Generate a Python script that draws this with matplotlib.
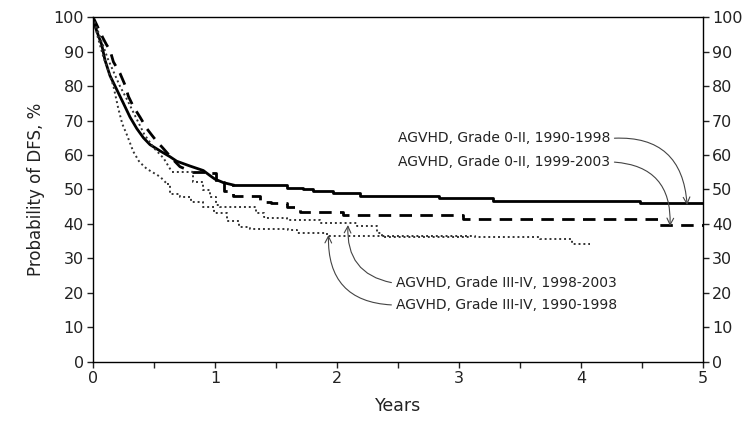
import matplotlib
matplotlib.use('Agg')
import matplotlib.pyplot as plt
from matplotlib.ticker import MultipleLocator

# Kaplan-Meier style curves (years, DFS %)
t_early_1990 = [0, 0.02, 0.05, 0.071, 0.098, 0.139, 0.194, 0.249, 0.303, 0.358, 0.413,
                0.467, 0.549, 0.631, 0.686, 0.795, 0.904, 0.96, 1.0, 1.068, 1.15,
                1.59, 1.72, 1.80, 1.97, 2.19, 2.84, 3.28, 4.48, 5.0]
s_early_1990 = [100, 97, 94, 92, 87.5, 83, 79, 75, 71, 67.7, 65,
                63, 61.2, 59.5, 58.2, 56.8, 55.5, 54, 53, 52, 51.3,
                50.4, 50, 49.6, 49, 48.1, 47.4, 46.7, 46, 46]

t_early_1999 = [0, 0.04, 0.08, 0.11, 0.139, 0.167, 0.221, 0.262, 0.29, 0.331, 0.385,
                0.44, 0.481, 0.535, 0.563, 0.658, 0.713, 0.809, 0.918, 1.01, 1.07,
                1.15, 1.37, 1.46, 1.59, 1.70, 2.05, 3.03, 4.63, 5.0]
s_early_1999 = [100, 97, 94, 92, 90.4, 87, 83.7, 80.3, 77, 74, 71,
                67.7, 65.8, 63.4, 62.4, 58.6, 56.6, 55.2, 54.7, 52.3, 49.6,
                48.2, 46.4, 46, 45, 43.4, 42.6, 41.4, 39.8, 39.8]

t_late_1998 = [0, 0.03, 0.07, 0.12, 0.17, 0.22, 0.28, 0.35, 0.42, 0.5, 0.58,
               0.645, 0.822, 0.904, 0.959, 1.01, 1.04, 1.34, 1.40, 1.42, 1.59,
               1.86, 2.16, 2.33, 2.37, 3.1]
s_late_1998 = [100, 97, 93, 88, 84, 80, 76, 71, 66, 62, 59,
               55.2, 52.3, 49.9, 47.9, 45.5, 45, 43.1, 42.1, 41.6, 41.2,
               40.4, 39.5, 37.3, 36.1, 36.1]

t_late_1990 = [0, 0.04, 0.08, 0.12, 0.167, 0.207, 0.24, 0.276, 0.33, 0.38, 0.44,
               0.55, 0.61, 0.63, 0.71, 0.8, 0.9, 0.99, 1.1, 1.2, 1.29,
               1.6, 1.67, 1.92, 3.13, 3.66, 3.93, 4.07]
s_late_1990 = [100, 94, 89, 85, 80, 73.5, 69, 66, 61, 58, 56,
               53.7, 51.5, 48.6, 47.7, 46.5, 45, 43.1, 41, 39.2, 38.6,
               38.3, 37.3, 36.5, 36.3, 35.6, 34.3, 34.3]

fig = plt.figure(figsize=(7.52, 4.22), dpi=100)
ax = fig.add_axes([0.1237, 0.1422, 0.8111, 0.8175])


def km(t, s, k, **kw):
    # dense early drop drawn as a line, sparse later steps drawn as steps
    ax.plot(t[:k + 1], s[:k + 1], **kw)
    ax.step(t[k:], s[k:], where='post', **kw)


km(t_early_1990, s_early_1990, 20, color='black', linewidth=2.0)
km(t_early_1999, s_early_1999, 17, color='black', linewidth=2.0,
   linestyle=(0, (4.5, 3)))
km(t_late_1998, s_late_1998, 11, color='#333333', linewidth=1.4,
   linestyle=(0, (1, 1.5)))
km(t_late_1990, s_late_1990, 12, color='#333333', linewidth=1.4,
   linestyle=(0, (1, 1.5)))

ax.set_xlim(0, 5)
ax.set_ylim(0, 100)
ax.xaxis.set_major_locator(MultipleLocator(1))
ax.xaxis.set_minor_locator(MultipleLocator(0.5))
ax.yaxis.set_major_locator(MultipleLocator(10))
ax.tick_params(axis='both', which='both', direction='out', length=4.5, width=1,
               labelsize=11.5, colors='#222222', pad=2)
ax.tick_params(axis='y', right=True, labelright=True)
for sp in ax.spines.values():
    sp.set_linewidth(1.0)

ax.set_xlabel('Years', fontsize=12.5, color='#222222', labelpad=8)
ax.set_ylabel('Probability of DFS, %', fontsize=12, color='#222222', labelpad=6)

arrow = dict(arrowstyle='->', color='#444444', lw=0.8, shrinkA=1, shrinkB=0,
             mutation_scale=12)

ax.annotate('AGVHD, Grade 0-II, 1990-1998', xy=(4.87, 45.5), xytext=(4.24, 64.8),
            ha='right', va='center', fontsize=10, color='#222222',
            arrowprops=dict(arrow, connectionstyle='arc3,rad=-0.5', relpos=(1, 0.5)))
ax.annotate('AGVHD, Grade 0-II, 1999-2003', xy=(4.73, 39.4), xytext=(4.24, 58.0),
            ha='right', va='center', fontsize=10, color='#222222',
            arrowprops=dict(arrow, connectionstyle='arc3,rad=-0.5', relpos=(1, 0.5)))
ax.annotate('AGVHD, Grade III-IV, 1998-2003', xy=(2.09, 39.7), xytext=(2.48, 22.8),
            ha='left', va='center', fontsize=10, color='#222222',
            arrowprops=dict(arrow, connectionstyle='arc3,rad=-0.45', relpos=(0, 0.5)))
ax.annotate('AGVHD, Grade III-IV, 1990-1998', xy=(1.93, 36.8), xytext=(2.48, 16.5),
            ha='left', va='center', fontsize=10, color='#222222',
            arrowprops=dict(arrow, connectionstyle='arc3,rad=-0.5', relpos=(0, 0.5)))

plt.savefig('out.png', dpi=100)
